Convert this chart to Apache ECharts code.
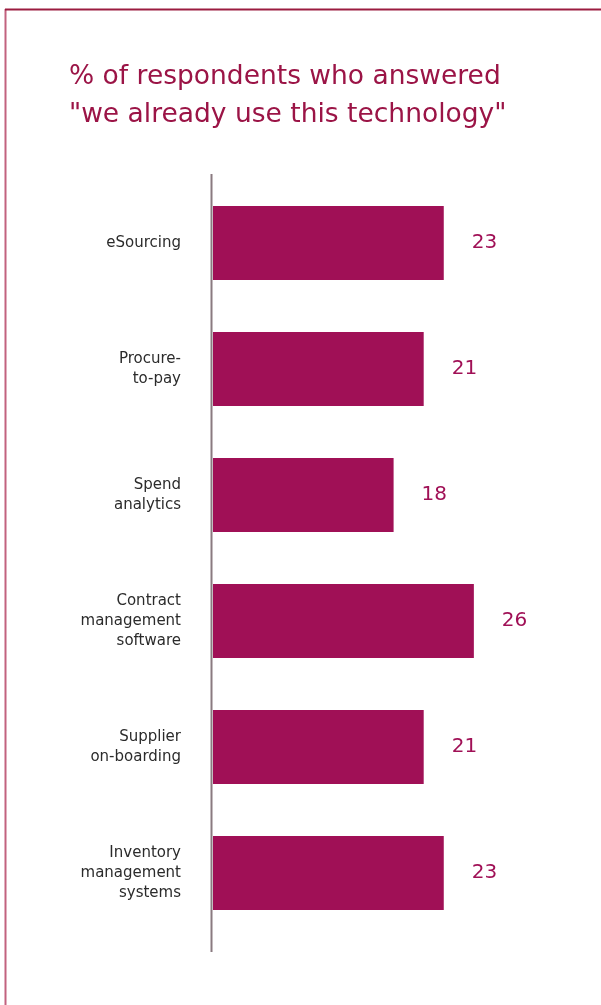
<!DOCTYPE html>
<html>
<head>
<meta charset="utf-8">
<script src="https://cdn.jsdelivr.net/npm/echarts@6/dist/echarts.min.js"></script>
<style>
html,body{margin:0;padding:0;background:#fff;}
#chart{width:601px;height:1005px;}
</style>
</head>
<body>
<div id="chart"></div>
<script>
const categories = [
  "eSourcing",
  "Procure-\nto-pay",
  "Spend\nanalytics",
  "Contract\nmanagement\nsoftware",
  "Supplier\non-boarding",
  "Inventory\nmanagement\nsystems"
];
const values = [23, 21, 18, 26, 21, 23];
const titleText = "% of respondents who answered\n\"we already use this technology\"";

const chart = echarts.init(document.getElementById('chart'), null, {renderer: 'canvas'});
const option = {
  animation: false,
  backgroundColor: '#ffffff',
  title: {
    text: titleText,
    left: 64,
    top: 53,
    textStyle: {
      fontFamily: 'DejaVu Sans',
      fontSize: 26.5,
      fontWeight: 'normal',
      color: '#9b1446',
      lineHeight: 38
    }
  },
  grid: {
    left: 213,
    top: 180,
    width: 301,
    height: 756,
    containLabel: false
  },
  xAxis: {
    type: 'value',
    min: 0,
    max: 30,
    show: false
  },
  yAxis: {
    type: 'category',
    data: categories,
    inverse: true,
    axisLine: {show: false},
    axisTick: {show: false},
    axisLabel: {
      margin: 32,
      fontFamily: 'DejaVu Sans',
      fontSize: 15,
      lineHeight: 20,
      color: '#2b2b2b',
      align: 'right',
      padding: [0, 0, 3, 0]
    }
  },
  series: [{
    type: 'bar',
    data: values,
    barWidth: 74,
    itemStyle: {color: '#a01056'},
    label: {
      show: true,
      position: 'right',
      distance: 28,
      fontFamily: 'DejaVu Sans',
      fontSize: 20,
      color: '#a01056'
    }
  }],
  graphic: [
    {type: 'line', shape: {x1: 5.5, y1: 9, x2: 5.5, y2: 1005}, style: {stroke: '#c2627f', lineWidth: 2}},
    {type: 'line', shape: {x1: 5, y1: 9.5, x2: 601, y2: 9.5}, style: {stroke: '#9b1c40', lineWidth: 2}},
    {type: 'line', shape: {x1: 211.5, y1: 174, x2: 211.5, y2: 952}, style: {stroke: '#8a7a80', lineWidth: 2}}
  ]
};
chart.setOption(option);
</script>
</body>
</html>
